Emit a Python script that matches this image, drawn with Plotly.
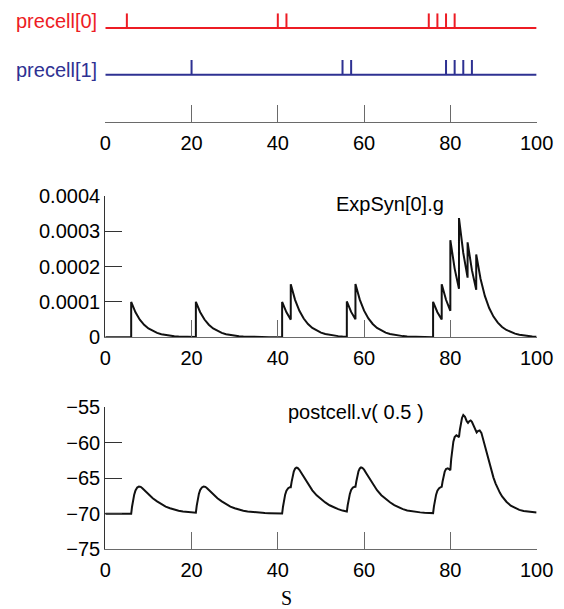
import plotly.graph_objects as go

# ---------------- data ----------------
t_stop = 100
precell0_spikes = [5, 40, 42, 75, 77, 79, 81]
precell1_spikes = [20, 55, 57, 79, 81, 83, 85]
x_ticks = [0, 20, 40, 60, 80, 100]

# ExpSyn[0].g (repeated times mark the jumps)
g_t = [0, 6, 6, 7, 8, 9, 10, 11, 12, 13, 14, 15, 16, 17, 18, 19, 20,
       21, 21, 22, 23, 24, 25, 26, 27, 28, 29, 30, 31, 32, 33, 34, 35, 36, 37, 38, 39, 40,
       41, 41, 42, 43, 43, 44, 45, 46, 47, 48, 49, 50, 51, 52, 53, 54, 55,
       56, 56, 57, 58, 58, 59, 60, 61, 62, 63, 64, 65, 66, 67, 68, 69, 70, 71, 72, 73, 74, 75,
       76, 76, 77, 78, 78, 79, 80, 80, 81, 82, 82, 83, 84, 84, 85, 86, 86,
       87, 88, 89, 90, 91, 92, 93, 94, 95, 96, 97, 98, 99, 100]
g_val = [0, 0, 1.0e-4, 0.7071e-4, 0.5e-4, 0.3536e-4, 0.25e-4, 0.1768e-4, 0.125e-4, 0.0884e-4,
         0.0625e-4, 0.0442e-4, 0.0313e-4, 0.0221e-4, 0.0156e-4, 0.011e-4, 0.0078e-4,
         0.0055e-4, 1.0055e-4, 0.711e-4, 0.503e-4, 0.3555e-4, 0.2514e-4, 0.1777e-4, 0.1257e-4,
         0.0889e-4, 0.0628e-4, 0.0444e-4, 0.0314e-4, 0.0222e-4, 0.0157e-4, 0.0111e-4, 0.0079e-4,
         0.0056e-4, 0.0039e-4, 0.0028e-4, 0.002e-4, 0.0014e-4,
         0.001e-4, 1.001e-4, 0.7078e-4, 0.5005e-4, 1.5005e-4, 1.061e-4, 0.7503e-4, 0.5305e-4,
         0.3751e-4, 0.2652e-4, 0.1876e-4, 0.1326e-4, 0.0938e-4, 0.0663e-4, 0.0469e-4, 0.0332e-4,
         0.0234e-4,
         0.0166e-4, 1.0166e-4, 0.7188e-4, 0.5083e-4, 1.5083e-4, 1.0665e-4, 0.7541e-4, 0.5333e-4,
         0.3771e-4, 0.2666e-4, 0.1885e-4, 0.1333e-4, 0.0943e-4, 0.0667e-4, 0.0471e-4, 0.0333e-4,
         0.0236e-4, 0.0167e-4, 0.0118e-4, 0.0083e-4, 0.0059e-4, 0.0042e-4,
         0.0029e-4, 1.0029e-4, 0.7092e-4, 0.5015e-4, 1.5015e-4, 1.0617e-4, 0.7507e-4, 2.7507e-4,
         1.945e-4, 1.3754e-4, 3.3754e-4, 2.3868e-4, 1.6877e-4, 2.6877e-4, 1.9005e-4, 1.3439e-4,
         2.3439e-4,
         1.6574e-4, 1.1719e-4, 0.8287e-4, 0.586e-4, 0.4143e-4, 0.293e-4, 0.2072e-4, 0.1465e-4,
         0.1036e-4, 0.0732e-4, 0.0518e-4, 0.0366e-4, 0.0259e-4, 0.0183e-4]

# postcell.v(0.5)
v_t = [0, 6.0, 6.2, 6.4, 6.7, 7.0, 7.4, 7.8, 8.2, 8.6, 9.0, 9.5, 10, 11, 12, 13, 14, 15, 16, 17, 18, 19, 20, 21,
       21.2, 21.4, 21.7, 22.0, 22.4, 22.8, 23.2, 23.6, 24.0, 24.5, 25, 26, 27, 28, 29, 30, 31, 32, 33, 34,
       35, 36, 37, 38, 39, 40, 41,
       41.2, 41.4, 41.7, 42.0, 42.4, 42.8, 43.0, 43.2, 43.4, 43.7, 44.0, 44.3, 44.6, 45.0, 45.5, 46.0, 46.5,
       47.0, 47.5, 48.0, 49, 50, 51, 52, 53, 54, 55, 56,
       56.2, 56.4, 56.7, 57.0, 57.4, 57.8, 58.0, 58.2, 58.4, 58.7, 59.0, 59.3, 59.6, 60.0, 60.5, 61.0, 61.5,
       62.0, 62.5, 63.0, 64, 65, 66, 67, 68, 69, 70, 71, 72, 73, 74, 75, 76,
       76.2, 76.4, 76.7, 77.0, 77.4, 77.8, 78.0, 78.2, 78.4, 78.7, 79.0, 79.4, 79.8, 80.0, 80.2, 80.4, 80.7,
       81.0, 81.4, 81.8, 82.0, 82.2, 82.4, 82.7, 83.0, 83.4, 83.8, 84.1, 84.4, 84.7, 85.0, 85.4, 85.8,
       86.1, 86.4, 86.8, 87.2, 87.6, 88.0, 88.5, 89.0, 89.5, 90.0, 90.5, 91.0, 91.5, 92.0, 92.5, 93.0,
       94.0, 95.0, 96.0, 97.0, 98.0, 99.0, 100]
v_val = [-70.0, -70.0, -69.0, -68.2, -67.3, -66.7, -66.3, -66.15, -66.2, -66.4, -66.65, -66.95, -67.25,
         -67.8, -68.25, -68.65, -68.98, -69.22, -69.42, -69.56, -69.66, -69.74, -69.8, -69.84,
         -68.85, -68.05, -67.2, -66.65, -66.28, -66.15, -66.2, -66.4, -66.65, -66.95, -67.25, -67.8,
         -68.25, -68.65, -68.98, -69.22, -69.42, -69.56, -69.66, -69.74, -69.8, -69.85, -69.88, -69.91,
         -69.93, -69.95, -69.96,
         -69.0, -68.2, -67.3, -66.75, -66.4, -66.25, -66.25, -65.5, -64.75, -64.05, -63.65, -63.5, -63.55,
         -63.8, -64.3, -64.8, -65.35, -65.85, -66.3, -66.7, -67.4, -67.95, -68.4, -68.8, -69.1, -69.35,
         -69.55, -69.68,
         -68.8, -68.05, -67.2, -66.65, -66.3, -66.2, -66.2, -65.45, -64.7, -64.0, -63.62, -63.47, -63.52,
         -63.78, -64.28, -64.78, -65.33, -65.83, -66.28, -66.68, -67.38, -67.93, -68.38, -68.78, -69.1,
         -69.35, -69.53, -69.65, -69.74, -69.8, -69.85, -69.88, -69.9,
         -68.95, -68.15, -67.3, -66.75, -66.4, -66.25, -66.2, -65.45, -64.75, -64.05, -63.7, -63.6,
         -63.75, -63.85, -62.3, -61.0, -59.85, -59.2, -58.95, -59.1, -59.2, -58.2, -57.3, -56.5, -56.1,
         -56.35, -56.95, -57.2, -56.95, -56.85, -57.05, -57.65, -58.3, -58.55, -58.35, -58.25, -58.6,
         -59.5, -60.5, -61.7, -62.85, -63.95, -64.9, -65.75, -66.45, -67.05, -67.55, -67.95, -68.3,
         -68.85, -69.2, -69.45, -69.6, -69.7, -69.78, -69.83]

g_ticks = [0, 0.0001, 0.0002, 0.0003, 0.0004]
g_tick_text = ["0", "0.0001", "0.0002", "0.0003", "0.0004"]
v_ticks = [-75, -70, -65, -60, -55]

# ---------------- style ----------------
OFF = 8                      # page body margin of the browser
W, H = 564 - OFF, 609 - OFF
RED = "#ed1c24"
BLUE = "#2e3192"
INK = "#111111"
XCOL = "#6a6a6a"
YCOL = "#333333"
FONT = "Liberation Sans, Arial, Helvetica, sans-serif"
FS = 20
SPIKE_H = 0.315


def raster_xy(spikes, row):
    xs = [0, t_stop, None]
    ys = [row, row, None]
    for s in spikes:
        xs += [s, s, None]
        ys += [row, row + SPIKE_H, None]
    return xs, ys


def px2paper_x(px):
    return (px - OFF) / W


def px2paper_y(py):
    return 1 - (py - OFF) / H


fig = go.Figure()

x0, y0 = raster_xy(precell0_spikes, 1)
x1, y1 = raster_xy(precell1_spikes, 0)
fig.add_trace(go.Scatter(x=x0, y=y0, mode="lines", line=dict(color=RED, width=2),
                         xaxis="x", yaxis="y", showlegend=False, hoverinfo="skip"))
fig.add_trace(go.Scatter(x=x1, y=y1, mode="lines", line=dict(color=BLUE, width=2),
                         xaxis="x", yaxis="y", showlegend=False, hoverinfo="skip"))
fig.add_trace(go.Scatter(x=g_t, y=g_val, mode="lines", line=dict(color=INK, width=2),
                         xaxis="x2", yaxis="y2", showlegend=False))
fig.add_trace(go.Scatter(x=v_t, y=v_val, mode="lines", line=dict(color=INK, width=2),
                         xaxis="x3", yaxis="y3", showlegend=False))

xdom = [px2paper_x(105.3), px2paper_x(536.6)]

xcommon = dict(domain=xdom, range=[0, t_stop], tickvals=x_ticks, ticks="inside", ticklen=17,
               tickwidth=1.3, tickcolor=XCOL, showline=True, linecolor=XCOL, linewidth=1.3,
               showgrid=False, zeroline=False, automargin=False, ticklabelstandoff=3,
               tickfont=dict(size=FS, color="black"))
ycommon = dict(ticks="inside", ticklen=17, tickwidth=1.3, tickcolor=YCOL, showline=True,
               linecolor=YCOL, linewidth=1.3, showgrid=False, zeroline=False, automargin=False,
               tickfont=dict(size=FS, color="black"))

fig.update_layout(
    template="none",
    width=W, height=H, margin=dict(l=0, r=0, t=0, b=0, pad=0), autosize=False,
    paper_bgcolor="white", plot_bgcolor="white",
    font=dict(family=FONT, size=FS, color="black"),
    showlegend=False,
    xaxis=dict(anchor="y", **xcommon),
    yaxis=dict(domain=[px2paper_y(122), px2paper_y(13.3)], range=[-1.01, 1.315],
               showline=False, showgrid=False, zeroline=False, ticks="inside",
               tickvals=[-1.01], ticklen=17, tickwidth=1.3, tickcolor=YCOL,
               showticklabels=False, automargin=False),
    xaxis2=dict(anchor="y2", **xcommon),
    yaxis2=dict(anchor="x2", domain=[px2paper_y(337.3), px2paper_y(196)], range=[0, 0.0004],
                tickvals=g_ticks, ticktext=g_tick_text, **ycommon),
    xaxis3=dict(anchor="y3", **xcommon),
    yaxis3=dict(anchor="x3", domain=[px2paper_y(549.3), px2paper_y(407.3)], range=[-75, -55],
                tickvals=v_ticks, **ycommon),
    annotations=[
        dict(text="precell[0]", x=px2paper_x(99), y=px2paper_y(21.5), xref="paper", yref="paper",
             xanchor="right", yanchor="middle", showarrow=False, font=dict(color=RED, size=FS)),
        dict(text="precell[1]", x=px2paper_x(99), y=px2paper_y(69.9), xref="paper", yref="paper",
             xanchor="right", yanchor="middle", showarrow=False, font=dict(color=BLUE, size=FS)),
        dict(text="ExpSyn[0].g", x=px2paper_x(390), y=px2paper_y(203.9), xref="paper", yref="paper",
             xanchor="center", yanchor="middle", showarrow=False, font=dict(size=FS)),
        dict(text="postcell.v( 0.5 )", x=px2paper_x(356), y=px2paper_y(412.4), xref="paper",
             yref="paper", xanchor="center", yanchor="middle", showarrow=False, font=dict(size=FS)),
        dict(text="S", x=px2paper_x(286), y=px2paper_y(598), xref="paper", yref="paper",
             xanchor="center", yanchor="middle", showarrow=False,
             font=dict(family="Liberation Serif, Times New Roman, serif", size=20)),
    ],
)

fig.write_html("out.html")
